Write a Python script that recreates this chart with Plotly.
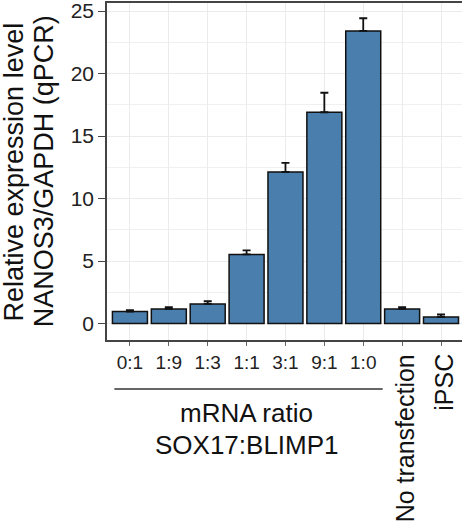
import plotly.graph_objects as go

categories = ["0:1", "1:9", "1:3", "1:1", "3:1", "9:1", "1:0", "No transfection", "iPSC"]
values = [0.96, 1.17, 1.57, 5.53, 12.13, 16.9, 23.41, 1.17, 0.53]
errors = [0.10, 0.13, 0.21, 0.32, 0.72, 1.56, 1.01, 0.13, 0.19]
ratio_labels = ["0:1", "1:9", "1:3", "1:1", "3:1", "9:1", "1:0", "", ""]
y_ticks = [0, 5, 10, 15, 20, 25]

FONT = "Liberation Sans, Arial, sans-serif"
idx = list(range(len(categories)))

fig = go.Figure()
fig.add_trace(go.Bar(
    x=idx, y=values, width=0.9,
    marker=dict(color="#4a7eac", line=dict(color="#111111", width=1.5)),
    error_y=dict(type="data", array=errors, arrayminus=[0] * len(errors),
                 symmetric=False, color="#111111", thickness=1.8, width=4),
))

fig.update_layout(
    width=462, height=528,
    margin=dict(l=107, r=0, t=3, b=188),
    plot_bgcolor="white", paper_bgcolor="white",
    showlegend=False,
    font=dict(family=FONT, color="#111111"),
    xaxis=dict(
        range=[-0.59, 8.54], tickmode="array", tickvals=idx, ticktext=ratio_labels,
        tickfont=dict(size=19, color="#222222"),
        showgrid=True, gridcolor="#ebebeb", gridwidth=1.3,
        showline=True, linecolor="#444444", linewidth=1.5, mirror=True,
        ticks="outside", ticklen=4, tickcolor="#666666", tickwidth=1,
        zeroline=False,
    ),
    yaxis=dict(
        range=[-1.32, 25.64], tickmode="array", tickvals=y_ticks,
        tickfont=dict(size=21, color="#222222"), ticklabeloverflow="allow",
        showgrid=True, gridcolor="#ebebeb", gridwidth=1.3,
        minor=dict(dtick=2.5, tick0=0, showgrid=True, gridcolor="#f0f0f0", gridwidth=1.1, ticks=""),
        showline=True, linecolor="#444444", linewidth=1.5,
        ticks="outside", ticklen=7, tickcolor="#444444", tickwidth=1.2,
        zeroline=False,
    ),
)

# y-axis title (two lines)
fig.add_annotation(text="Relative expression level", xref="paper", yref="paper",
                   x=-0.262, y=0.5, xanchor="center", yanchor="middle", textangle=-90,
                   showarrow=False, font=dict(size=27, color="#111111"))
fig.add_annotation(text="NANOS3/GAPDH (qPCR)", xref="paper", yref="paper",
                   x=-0.178, y=0.5, xanchor="center", yanchor="middle", textangle=-90,
                   showarrow=False, font=dict(size=27, color="#111111"))

# rotated category labels
for i, name in [(7, categories[7]), (8, categories[8])]:
    fig.add_annotation(text=name, xref="x", yref="paper", x=i + 0.08, y=-0.036,
                       xanchor="center", yanchor="top", textangle=-90,
                       showarrow=False, font=dict(size=25, color="#111111"))

# group bracket line and label
fig.add_shape(type="line", xref="x", yref="paper", x0=-0.4, x1=6.5, y0=-0.1454, y1=-0.1454,
              line=dict(color="#333333", width=1.5))
fig.add_annotation(text="mRNA ratio", xref="x", yref="paper", x=3.0, y=-0.2166,
                   xanchor="center", yanchor="middle", showarrow=False,
                   font=dict(size=26, color="#111111"))
fig.add_annotation(text="SOX17:BLIMP1", xref="x", yref="paper", x=3.0, y=-0.3116,
                   xanchor="center", yanchor="middle", showarrow=False,
                   font=dict(size=26, color="#111111"))

fig.write_html("out.html", config={"displayModeBar": False},
               post_script="document.body.style.margin='0';document.body.style.overflow='hidden';")
